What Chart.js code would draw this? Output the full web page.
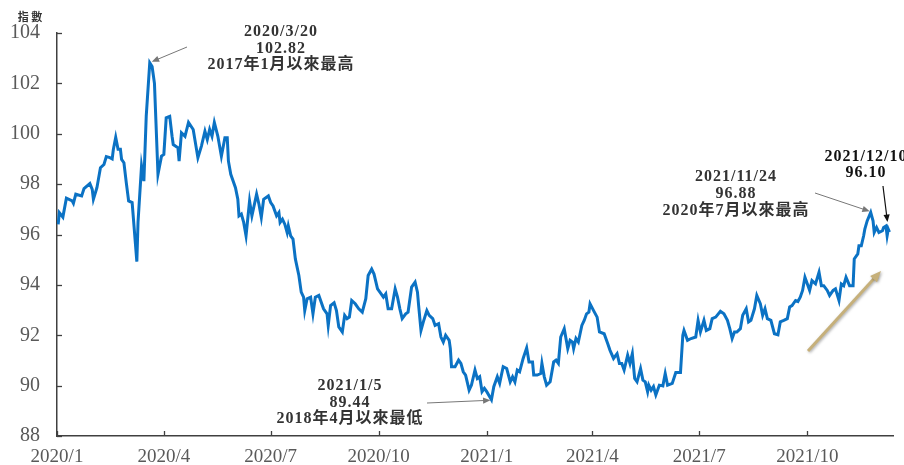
<!DOCTYPE html>
<html>
<head>
<meta charset="utf-8">
<script src="https://cdn.jsdelivr.net/npm/chart.js@4/dist/chart.umd.min.js"></script>
<style>
  body { margin: 0; background: #fff; }
  #wrap { width: 904px; height: 465px; }
</style>
</head>
<body>
<div id="wrap"><canvas id="dxyChart" width="904" height="465"></canvas></div>
<script>
// 美元指數 2020/1 ~ 2021/12/10 (日資料, 讀圖估計)
const dates = [
  '2020/1/2','2020/1/3','2020/1/6','2020/1/9','2020/1/14','2020/1/15','2020/1/17','2020/1/22','2020/1/24','2020/1/29','2020/1/31',
  '2020/2/1','2020/2/4','2020/2/7','2020/2/10','2020/2/12','2020/2/15','2020/2/17','2020/2/18','2020/2/20','2020/2/22','2020/2/24','2020/2/25','2020/2/27','2020/2/29',
  '2020/3/2','2020/3/5','2020/3/9','2020/3/10','2020/3/13','2020/3/15','2020/3/17','2020/3/20','2020/3/22','2020/3/24','2020/3/27','2020/3/30',
  '2020/4/1','2020/4/3','2020/4/6','2020/4/8','2020/4/9','2020/4/13','2020/4/14','2020/4/16','2020/4/19','2020/4/22','2020/4/26','2020/4/30',
  '2020/5/3','2020/5/6','2020/5/8','2020/5/10','2020/5/12','2020/5/14','2020/5/17','2020/5/20','2020/5/23','2020/5/25','2020/5/26','2020/5/28',
  '2020/6/1','2020/6/3','2020/6/4','2020/6/6','2020/6/8','2020/6/10','2020/6/13','2020/6/15','2020/6/19','2020/6/21','2020/6/23','2020/6/25','2020/6/29',
  '2020/7/1','2020/7/3','2020/7/6','2020/7/8','2020/7/9','2020/7/11','2020/7/13','2020/7/15','2020/7/16','2020/7/18','2020/7/20','2020/7/22','2020/7/25','2020/7/27','2020/7/29','2020/7/30',
  '2020/8/1','2020/8/4','2020/8/6','2020/8/8','2020/8/11','2020/8/15','2020/8/18','2020/8/19','2020/8/21','2020/8/24','2020/8/26','2020/8/28','2020/8/31',
  '2020/9/2','2020/9/4','2020/9/6','2020/9/8','2020/9/11','2020/9/14','2020/9/17','2020/9/20','2020/9/22','2020/9/25','2020/9/27','2020/9/30',
  '2020/10/2','2020/10/5','2020/10/7','2020/10/9','2020/10/12','2020/10/15','2020/10/17','2020/10/19','2020/10/21','2020/10/24','2020/10/26','2020/10/29',
  '2020/11/1','2020/11/3','2020/11/4','2020/11/6','2020/11/8','2020/11/11','2020/11/13','2020/11/16','2020/11/18','2020/11/21','2020/11/23','2020/11/25','2020/11/27','2020/11/30',
  '2020/12/1','2020/12/2','2020/12/5','2020/12/8','2020/12/10','2020/12/12','2020/12/14','2020/12/17','2020/12/19','2020/12/22','2020/12/24','2020/12/26','2020/12/28','2020/12/30',
  '2021/1/1','2021/1/5','2021/1/7','2021/1/10','2021/1/12','2021/1/15','2021/1/18','2021/1/21','2021/1/23','2021/1/25','2021/1/27','2021/1/29',
  '2021/2/1','2021/2/4','2021/2/6','2021/2/9','2021/2/10','2021/2/13','2021/2/16','2021/2/17','2021/2/19','2021/2/21','2021/2/24','2021/2/27',
  '2021/3/1','2021/3/3','2021/3/5','2021/3/8','2021/3/11','2021/3/13','2021/3/15','2021/3/16','2021/3/18','2021/3/20','2021/3/23','2021/3/25','2021/3/27','2021/3/29','2021/3/30',
  '2021/4/2','2021/4/5','2021/4/7','2021/4/11','2021/4/14','2021/4/16','2021/4/19','2021/4/22','2021/4/24','2021/4/26','2021/4/28',
  '2021/5/1','2021/5/3','2021/5/5','2021/5/7','2021/5/9','2021/5/12','2021/5/14','2021/5/16','2021/5/18','2021/5/19','2021/5/21','2021/5/23','2021/5/25','2021/5/28','2021/5/31',
  '2021/6/2','2021/6/4','2021/6/8','2021/6/11','2021/6/15','2021/6/17','2021/6/18','2021/6/21','2021/6/24','2021/6/28','2021/6/30',
  '2021/7/2','2021/7/5','2021/7/7','2021/7/10','2021/7/12','2021/7/15','2021/7/19','2021/7/22','2021/7/25','2021/7/27','2021/7/29','2021/7/31',
  '2021/8/2','2021/8/5','2021/8/7','2021/8/10','2021/8/12','2021/8/14','2021/8/17','2021/8/19','2021/8/22','2021/8/24','2021/8/26','2021/8/28','2021/8/31',
  '2021/9/3','2021/9/6','2021/9/8','2021/9/11','2021/9/14','2021/9/16','2021/9/18','2021/9/21','2021/9/23','2021/9/25','2021/9/27','2021/9/29',
  '2021/10/1','2021/10/3','2021/10/5','2021/10/8','2021/10/11','2021/10/13','2021/10/15','2021/10/18','2021/10/20','2021/10/23','2021/10/25','2021/10/28','2021/10/30',
  '2021/11/1','2021/11/3','2021/11/6','2021/11/9','2021/11/10','2021/11/13','2021/11/14','2021/11/16','2021/11/18','2021/11/19','2021/11/21','2021/11/24','2021/11/26','2021/11/27','2021/11/29',
  '2021/12/1','2021/12/4','2021/12/5','2021/12/7','2021/12/8','2021/12/9','2021/12/10'
];

const values = [
  96.40,96.87,96.69,97.44,97.33,97.24,97.60,97.53,97.82,98.02,97.79,
  97.40,97.86,98.65,98.78,99.09,99.05,99.00,99.38,99.86,99.38,99.38,98.98,98.85,98.06,
  97.33,97.27,94.92,96.48,98.72,98.12,100.70,102.82,102.67,102.00,98.39,99.11,
  99.18,100.63,100.69,99.90,99.57,99.44,98.91,100.04,99.90,100.45,100.17,99.05,
  99.51,100.10,99.77,100.17,99.90,100.45,99.90,99.11,99.84,99.84,98.91,98.39,
  97.86,97.40,96.74,96.81,96.48,95.95,97.33,96.74,97.60,97.20,96.68,97.40,97.53,
  97.27,97.13,96.74,96.87,96.48,96.61,96.41,96.08,96.34,95.95,95.82,95.03,94.37,93.71,93.51,92.98,
  93.45,93.51,92.85,93.51,93.58,93.05,92.85,92.39,93.18,93.29,92.98,92.33,92.13,
  92.79,92.66,92.72,93.38,93.25,93.05,92.92,93.45,94.37,94.63,94.43,93.84,
  93.71,93.51,93.64,93.05,93.05,93.84,93.51,93.05,92.66,92.85,92.92,93.91,
  94.11,93.71,93.18,92.19,92.53,92.98,92.79,92.66,92.39,92.46,91.93,91.73,92.00,91.80,
  91.47,90.75,90.75,91.01,90.88,90.55,90.42,89.82,90.02,90.62,90.28,90.35,89.76,89.89,
  89.76,89.44,89.96,90.35,90.09,90.75,90.68,90.15,90.35,90.15,90.62,90.55,
  91.08,91.50,90.94,90.94,90.42,90.42,90.48,90.88,90.35,90.02,90.15,90.94,
  91.01,90.88,91.93,92.26,91.47,91.80,91.73,91.47,91.87,91.73,92.39,92.59,92.85,92.92,93.25,
  92.98,92.72,92.13,92.06,91.67,91.40,91.08,91.27,90.88,90.88,90.62,
  91.21,90.88,91.27,90.28,90.15,90.68,90.22,90.15,89.76,90.02,89.82,89.96,89.63,90.02,89.99,
  90.48,90.02,90.09,90.52,90.52,92.00,92.19,91.80,91.87,91.93,92.59,
  92.13,92.59,92.19,92.26,92.66,92.72,92.95,92.85,92.59,92.26,91.87,92.13,
  92.13,92.26,92.79,93.05,92.53,92.59,93.05,93.58,93.25,92.79,93.05,92.66,92.59,
  92.06,92.02,92.53,92.59,92.66,93.12,93.18,93.38,93.34,93.51,93.78,94.30,
  94.04,93.78,94.17,94.04,94.50,93.97,93.97,93.78,93.58,93.78,93.84,93.38,94.04,
  93.97,94.30,93.97,93.97,95.03,95.23,95.55,95.55,95.95,96.21,96.54,96.88,96.54,96.08,96.28,
  96.08,96.15,96.28,96.34,95.95,96.21,96.10
];

const tickDates = ['2020/1/1','2020/4/1','2020/7/1','2020/10/1','2021/1/1','2021/4/1','2021/7/1','2021/10/1'];
const tickLabels = ['2020/1','2020/4','2020/7','2020/10','2021/1','2021/4','2021/7','2021/10'];
const yMin = 88, yMax = 104, yStep = 2;

function dayOf(s) {
  const p = s.split('/').map(Number);
  return (Date.UTC(p[0], p[1] - 1, p[2]) - Date.UTC(2020, 0, 1)) / 86400000;
}

const points = dates.map((d, i) => ({ x: dayOf(d), y: values[i] }));
const tickDays = tickDates.map(dayOf);

function arrow(ctx, x1, y1, x2, y2, color, width, head) {
  const a = Math.atan2(y2 - y1, x2 - x1);
  ctx.save();
  ctx.strokeStyle = color;
  ctx.fillStyle = color;
  ctx.lineWidth = width;
  ctx.beginPath();
  ctx.moveTo(x1, y1);
  ctx.lineTo(x2 - Math.cos(a) * head * 0.6, y2 - Math.sin(a) * head * 0.6);
  ctx.stroke();
  ctx.beginPath();
  ctx.moveTo(x2, y2);
  ctx.lineTo(x2 - head * Math.cos(a - 0.4), y2 - head * Math.sin(a - 0.4));
  ctx.lineTo(x2 - head * Math.cos(a + 0.4), y2 - head * Math.sin(a + 0.4));
  ctx.closePath();
  ctx.fill();
  ctx.restore();
}

function textBlock(ctx, lines, cx, y0, lh, color) {
  ctx.save();
  ctx.fillStyle = color;
  ctx.textAlign = 'center';
  ctx.textBaseline = 'middle';
  ctx.font = 'bold 16px "Liberation Serif", "Noto Sans CJK TC", serif';
  ctx.letterSpacing = '1px';
  lines.forEach((t, i) => ctx.fillText(t, cx, y0 + i * lh));
  ctx.restore();
}

const decorPlugin = {
  id: 'decor',
  afterDraw(chart) {
    const ctx = chart.ctx;
    const xs = chart.scales.x, ys = chart.scales.y;
    const area = chart.chartArea;

    // inside tick marks
    ctx.save();
    ctx.strokeStyle = '#404040';
    ctx.lineWidth = 1.3;
    for (let v = yMin; v <= yMax; v += yStep) {
      const py = Math.round(ys.getPixelForValue(v)) + 0.5;
      ctx.beginPath(); ctx.moveTo(area.left, py); ctx.lineTo(area.left + 5, py); ctx.stroke();
    }
    tickDays.forEach(d => {
      const px = Math.round(xs.getPixelForValue(d)) + 0.5;
      ctx.beginPath(); ctx.moveTo(px, area.bottom); ctx.lineTo(px, area.bottom - 5); ctx.stroke();
    });
    ctx.restore();

    // y axis unit
    ctx.save();
    ctx.fillStyle = '#333';
    ctx.font = 'bold 11px "Noto Sans CJK TC", sans-serif';
    ctx.textAlign = 'center';
    ctx.textBaseline = 'middle';
    ctx.fillText('指 數', 30, 17);
    ctx.restore();

    const pt = (d, v) => [xs.getPixelForValue(dayOf(d)), ys.getPixelForValue(v)];

    // 2020/3/20 peak
    let p = pt('2020/3/20', 102.82);
    textBlock(ctx, ['2020/3/20', '102.82', '2017年1月以來最高'], 281, 32, 16.5, '#333');
    arrow(ctx, 187, 47, p[0] + 2, p[1] - 1, '#777', 1, 8);

    // 2021/1/5 low
    p = pt('2021/1/5', 89.44);
    textBlock(ctx, ['2021/1/5', '89.44', '2018年4月以來最低'], 350, 386, 16.5, '#333');
    arrow(ctx, 427, 403, p[0] - 1, p[1] + 0.5, '#777', 1, 8);

    // 2021/11/24 high
    p = pt('2021/11/24', 96.88);
    textBlock(ctx, ['2021/11/24', '96.88', '2020年7月以來最高'], 736, 177, 17, '#333');
    arrow(ctx, 815, 193, p[0] - 1, p[1] - 1, '#777', 1, 8);

    // 2021/12/10 latest
    p = pt('2021/12/10', 96.10);
    textBlock(ctx, ['2021/12/10', '96.10'], 866, 157, 15.5, '#111');
    arrow(ctx, 883, 186, p[0] - 2, p[1] - 10, '#111', 1.2, 8);

    // trend arrow
    ctx.save();
    ctx.shadowColor = 'rgba(0,0,0,0.35)';
    ctx.shadowBlur = 3;
    ctx.shadowOffsetX = 1;
    ctx.shadowOffsetY = 1;
    arrow(ctx, 808, 351, 881, 271, '#C6B07A', 3, 12);
    ctx.restore();
  }
};

const ctx = document.getElementById('dxyChart').getContext('2d');
new Chart(ctx, {
  type: 'line',
  data: {
    datasets: [{
      label: '美元指數',
      data: points,
      borderColor: '#0B72C4',
      borderWidth: 3,
      pointRadius: 0,
      tension: 0,
      fill: false
    }]
  },
  options: {
    responsive: false,
    animation: false,
    layout: { padding: { left: 0, right: 11, top: 33, bottom: 0 } },
    plugins: { legend: { display: false }, tooltip: { enabled: false } },
    scales: {
      x: {
        type: 'linear',
        min: 0,
        max: 712,
        afterBuildTicks(scale) { scale.ticks = tickDays.map(v => ({ value: v })); },
        afterFit(scale) { scale.height = 27; },
        grid: { display: false, drawTicks: false },
        border: { display: true, color: '#404040', width: 1.5 },
        ticks: {
          autoSkip: false,
          maxRotation: 0,
          padding: 10,
          color: '#595959',
          font: { family: '"Liberation Serif", serif', size: 19 },
          callback(v) { const i = tickDays.indexOf(v); return i >= 0 ? tickLabels[i] : ''; }
        }
      },
      y: {
        min: yMin,
        max: yMax,
        afterFit(scale) { scale.width = 57; },
        grid: { display: false, drawTicks: false },
        border: { display: true, color: '#404040', width: 1.5 },
        ticks: {
          stepSize: yStep,
          padding: 17,
          color: '#595959',
          font: { family: '"Liberation Serif", serif', size: 20 }
        }
      }
    }
  },
  plugins: [decorPlugin]
});
</script>
</body>
</html>
